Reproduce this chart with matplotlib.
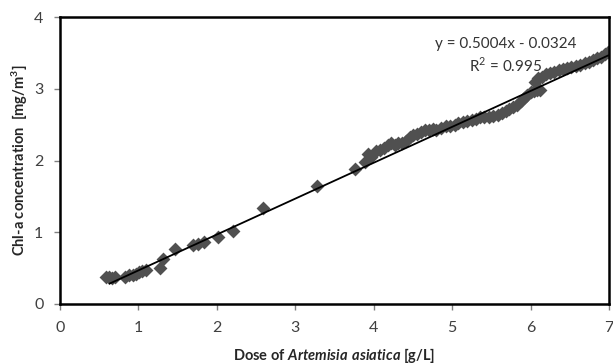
import numpy as np
import matplotlib
matplotlib.use("Agg")
import matplotlib.pyplot as plt

plt.rcParams['font.family'] = ['Lato', 'DejaVu Sans']
plt.rcParams['mathtext.fontset'] = 'custom'
plt.rcParams['mathtext.rm'] = 'Lato'
plt.rcParams['mathtext.bf'] = 'Lato:bold'
plt.rcParams['mathtext.bfit'] = 'Lato:italic:bold'

# dose [g/L] and Chl-a [mg/m3]
dose = [0.58, 0.62, 0.66, 0.70, 0.83, 0.88, 0.93, 0.97, 1.01, 1.05, 1.09,
        1.28, 1.31, 1.47, 1.70, 1.76, 1.83, 2.01, 2.21, 2.59, 3.27, 3.76,
        3.89, 3.93, 3.97, 4.03, 4.08, 4.13, 4.18, 4.22, 4.27, 4.31, 4.36,
        4.41, 4.46, 4.50, 4.55, 4.60, 4.65, 4.70, 4.75, 4.80, 4.86, 4.92,
        4.97, 5.03, 5.08, 5.14, 5.19, 5.25, 5.30, 5.36, 5.41, 5.47, 5.52,
        5.58, 5.63, 5.68, 5.73, 5.78, 5.83, 5.88, 5.92, 5.96, 6.00, 6.04,
        6.08, 6.12, 6.06, 6.10, 6.15, 6.20, 6.25, 6.30, 6.36, 6.41, 6.47,
        6.52, 6.58, 6.63, 6.69, 6.74, 6.80, 6.85, 6.90, 6.95, 6.99]
chla = [0.38, 0.37, 0.36, 0.38, 0.38, 0.40, 0.41, 0.42, 0.44, 0.46, 0.47,
        0.50, 0.63, 0.77, 0.82, 0.83, 0.87, 0.94, 1.02, 1.34, 1.64, 1.88,
        1.98, 2.09, 2.05, 2.13, 2.15, 2.18, 2.22, 2.24, 2.22, 2.25, 2.24,
        2.27, 2.33, 2.36, 2.37, 2.40, 2.42, 2.42, 2.44, 2.43, 2.46, 2.48,
        2.48, 2.50, 2.52, 2.54, 2.55, 2.57, 2.58, 2.60, 2.61, 2.61, 2.62,
        2.64, 2.66, 2.69, 2.72, 2.75, 2.78, 2.83, 2.87, 2.92, 2.95, 2.97,
        2.98, 2.99, 3.10, 3.15, 3.17, 3.20, 3.22, 3.24, 3.26, 3.27, 3.29,
        3.30, 3.32, 3.33, 3.36, 3.38, 3.40, 3.43, 3.45, 3.49, 3.51]

slope, intercept = 0.5004, -0.0324
r2 = 0.995

fig = plt.figure(figsize=(6.13, 3.64), dpi=100)
ax = fig.add_axes([0.098, 0.165, 0.8955, 0.788])

ax.scatter(dose, chla, marker='D', s=50, color='#505050', linewidths=0, zorder=2)
xs = np.array([min(dose) + 0.05, max(dose)])
ax.plot(xs, slope * xs + intercept, color='black', lw=1.3, zorder=3)

ax.set_xlim(0, 7)
ax.set_ylim(0, 4)
ax.set_xticks(range(0, 8))
ax.set_yticks(range(0, 5))
for s in ax.spines.values():
    s.set_linewidth(1.8)
    s.set_color('black')
ax.tick_params(direction='out', length=4, width=1, color='#808080',
               labelsize=11.5, labelcolor='#404040', pad=8)

ax.set_xlabel(r'Dose of $\mathbfit{Artemisia\ asiatica}$ [g/L]',
              fontsize=10.5, fontweight='bold', color='#262626', labelpad=8)
ax.set_ylabel(r'Chl-a concentration  [mg/m$\mathbf{^3}$]',
              fontsize=10.5, fontweight='bold', color='#262626', labelpad=3)

ax.text(5.68, 3.62, 'y = 0.5004x - 0.0324', fontsize=11, color='#333333',
        ha='center', va='center')
ax.text(5.68, 3.33, r'R$^2$ = %.3f' % r2, fontsize=11, color='#333333',
        ha='center', va='center')

fig.savefig('out.png', dpi=100)
